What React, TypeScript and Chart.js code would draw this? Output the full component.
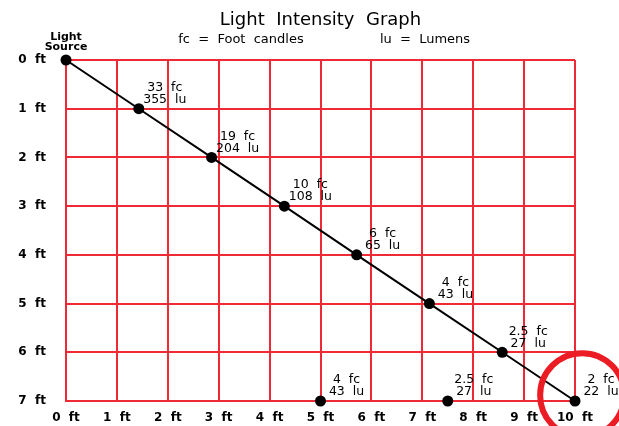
import React, { useEffect, useRef } from "react";
import { Chart, registerables } from "chart.js";

Chart.register(...registerables);

// ---- data ----
const lineX = [0, 1.43, 2.86, 4.29, 5.71, 7.14, 8.57, 10];
const lineY = [0, 1, 2, 3, 4, 5, 6, 7];
const lineFc = ["", "33 fc", "19 fc", "10 fc", "6 fc", "4 fc", "2.5 fc", "2 fc"];
const lineLu = ["", "355 lu", "204 lu", "108 lu", "65 lu", "43 lu", "27 lu", "22 lu"];

const floorX = [5, 7.5];
const floorY = [7, 7];
const floorFc = ["4 fc", "2.5 fc"];
const floorLu = ["43 lu", "27 lu"];

const sourceLabel = ["Light", "Source"];
const highlightX = [10.14];
const highlightY = [6.88];

const xTicks = [0, 1, 2, 3, 4, 5, 6, 7, 8, 9, 10];
const yTicks = [0, 1, 2, 3, 4, 5, 6, 7];
const tickUnit = "ft";

const titleText = "Light Intensity Graph";
const subLeft = "fc = Foot candles";
const subRight = "lu = Lumens";

const FONT = "'DejaVu Sans', sans-serif";
const RED = "rgb(240,42,52)";
const CIRCLE_RED = "rgb(236,28,36)";

const wide = (s: string) => s.split(" ").join("  ");

const textPlugin = {
  id: "textPlugin",
  afterDraw(chart: any) {
    const ctx = chart.ctx;
    const area = chart.chartArea;
    const xs = chart.scales.x;
    const ys = chart.scales.y;
    ctx.save();
    ctx.fillStyle = "#000";
    ctx.textBaseline = "middle";
    ctx.textAlign = "center";

    // title
    ctx.font = `18px ${FONT}`;
    ctx.fillText(wide(titleText), (area.left + area.right) / 2, 20);
    // subtitle
    ctx.font = `13px ${FONT}`;
    ctx.fillText(wide(subLeft), 241, 40);
    ctx.fillText(wide(subRight), 425, 40);

    // source label
    ctx.font = `bold 11px ${FONT}`;
    const sx = xs.getPixelForValue(lineX[0]);
    const sy = ys.getPixelForValue(lineY[0]);
    ctx.fillText(sourceLabel[0], sx, sy - 23);
    ctx.fillText(sourceLabel[1], sx, sy - 13);

    // point labels
    ctx.font = `12.5px ${FONT}`;
    const put = (x: number, y: number, a: string, b: string) => {
      if (!a) return;
      const px = xs.getPixelForValue(x) + 26;
      const py = ys.getPixelForValue(y);
      ctx.fillText(wide(a), px, py - 21);
      ctx.fillText(wide(b), px, py - 9);
    };
    lineX.forEach((x, i) => put(x, lineY[i], lineFc[i], lineLu[i]));
    floorX.forEach((x, i) => put(x, floorY[i], floorFc[i], floorLu[i]));
    ctx.restore();
  },
};

export default function App() {
  const ref = useRef<HTMLCanvasElement | null>(null);
  useEffect(() => {
    if (!ref.current) return;
    const chart = new Chart(ref.current, {
      type: "scatter",
      data: {
        datasets: [
          {
            data: highlightX.map((x, i) => ({ x, y: highlightY[i] })),
            pointRadius: 42,
            pointBorderWidth: 6,
            pointBorderColor: CIRCLE_RED,
            pointBackgroundColor: "rgba(0,0,0,0)",
            showLine: false,
            clip: false as any,
            order: 0,
          },
          {
            data: lineX.map((x, i) => ({ x, y: lineY[i] })),
            showLine: true,
            borderColor: "#000",
            borderWidth: 2,
            pointRadius: 5.5,
            pointBackgroundColor: "#000",
            pointBorderWidth: 0,
            clip: false as any,
            order: 1,
          },
          {
            data: floorX.map((x, i) => ({ x, y: floorY[i] })),
            showLine: false,
            pointRadius: 5.5,
            pointBackgroundColor: "#000",
            pointBorderWidth: 0,
            clip: false as any,
            order: 2,
          },
        ],
      },
      options: {
        animation: false,
        responsive: false,
        events: [],
        layout: { autoPadding: false, padding: { top: 60, right: 44, left: 0, bottom: 0 } },
        plugins: {
          legend: { display: false },
          tooltip: { enabled: false },
          title: { display: false },
        },
        scales: {
          x: {
            type: "linear",
            min: xTicks[0],
            max: xTicks[xTicks.length - 1],
            afterBuildTicks: (s: any) => {
              s.ticks = xTicks.map((v) => ({ value: v }));
            },
            afterFit: (s: any) => {
              s.height = 25;
              s.paddingLeft = 0;
              s.paddingRight = 0;
            },
            grid: { color: RED, lineWidth: 2, drawTicks: false },
            border: { color: RED, width: 2 },
            ticks: {
              padding: 10,
              color: "#000",
              font: { family: FONT, size: 12, weight: "bold" },
              maxRotation: 0,
              autoSkip: false,
              callback: (v: any) => wide(`${v} ${tickUnit}`),
            },
          },
          y: {
            type: "linear",
            reverse: true,
            min: yTicks[0],
            max: yTicks[yTicks.length - 1],
            afterBuildTicks: (s: any) => {
              s.ticks = yTicks.map((v) => ({ value: v }));
            },
            afterFit: (s: any) => {
              s.width = 66;
              s.paddingTop = 0;
              s.paddingBottom = 0;
            },
            grid: { color: RED, lineWidth: 2, drawTicks: false },
            border: { color: RED, width: 2 },
            ticks: {
              padding: 20,
              color: "#000",
              font: { family: FONT, size: 12, weight: "bold" },
              autoSkip: false,
              callback: (v: any) => wide(`${v} ${tickUnit}`),
            },
          },
        },
      },
      plugins: [textPlugin],
    } as any);
    return () => chart.destroy();
  }, []);

  return (
    <div style={{ position: "fixed", left: 0, top: 0, width: 619, height: 426, background: "#fff" }}>
      <canvas ref={ref} width={619} height={426} style={{ width: 619, height: 426 }} />
    </div>
  );
}
